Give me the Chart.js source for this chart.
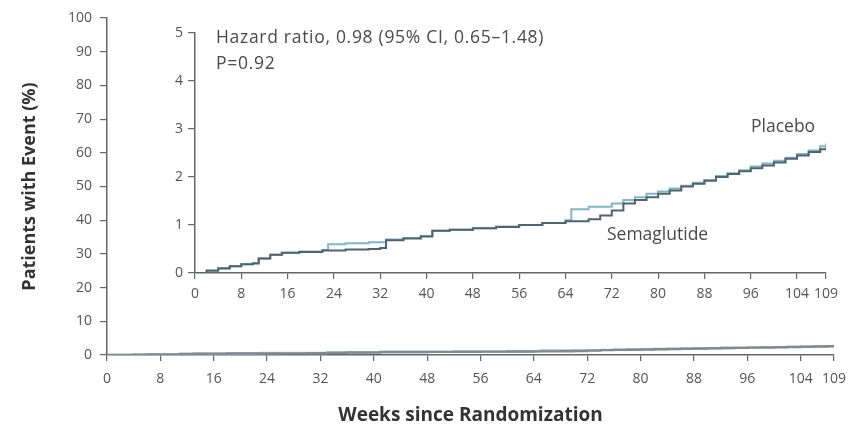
<!DOCTYPE html>
<html>
<head>
<meta charset="utf-8">
<script src="https://cdn.jsdelivr.net/npm/chart.js@4.4.1/dist/chart.umd.min.js"></script>
<style>
  html, body { margin: 0; padding: 0; background: #ffffff; }
  #wrap { position: relative; width: 856px; height: 427px; overflow: hidden; font-family: "Open Sans", "Liberation Sans", sans-serif; }
  #main { position: absolute; left: 0; top: 0; }
  #inset { position: absolute; left: 140px; top: 0; }
  .note { position: absolute; color: #4a4a4a; font-size: 17.5px; white-space: nowrap; line-height: 26px; }
</style>
</head>
<body>
<div id="wrap">
  <canvas id="main" width="856" height="427"></canvas>
  <canvas id="inset" width="710" height="320"></canvas>
  <div class="note" style="left:216px; top:23px; letter-spacing:0.7px;">Hazard ratio, 0.98 (95% CI, 0.65–1.48)</div>
  <div class="note" style="left:216px; top:49px; letter-spacing:0.7px;">P=0.92</div>
  <div class="note" style="left:751px; top:112px;">Placebo</div>
  <div class="note" style="left:607px; top:220px;">Semaglutide</div>
</div>
<script>
// ---- data ----
const xTickLabels = [0, 8, 16, 24, 32, 40, 48, 56, 64, 72, 80, 88, 96, 104, 109];
const mainYTicks = [0, 10, 20, 30, 40, 50, 60, 70, 80, 90, 100];
const insetYTicks = [0, 1, 2, 3, 4, 5];

const semaWeeks = [0, 2, 4, 6, 8, 10, 11, 13, 15, 18, 22, 26, 30, 32, 33, 36, 39, 41, 44, 48, 52, 56, 60, 64, 68, 70, 72, 74, 76, 78, 80, 82, 84, 86, 88, 90, 92, 94, 96, 98, 100, 102, 104, 106, 108, 109];
const semaValues = [0, 0.05, 0.1, 0.14, 0.18, 0.2, 0.3, 0.38, 0.42, 0.44, 0.47, 0.49, 0.5, 0.52, 0.68, 0.72, 0.76, 0.88, 0.9, 0.93, 0.96, 1.0, 1.04, 1.08, 1.12, 1.2, 1.3, 1.45, 1.52, 1.58, 1.65, 1.72, 1.8, 1.86, 1.92, 2.0, 2.06, 2.12, 2.18, 2.24, 2.3, 2.38, 2.45, 2.52, 2.58, 2.62];

const placeboWeeks = [0, 2, 4, 6, 8, 10, 11, 13, 15, 18, 22, 23, 26, 30, 33, 36, 39, 41, 44, 48, 52, 56, 60, 64, 65, 68, 72, 74, 76, 78, 80, 82, 84, 86, 88, 90, 92, 94, 96, 98, 100, 102, 104, 106, 108, 109];
const placeboValues = [0, 0.04, 0.09, 0.14, 0.18, 0.21, 0.3, 0.38, 0.42, 0.45, 0.48, 0.6, 0.62, 0.64, 0.7, 0.73, 0.77, 0.88, 0.9, 0.93, 0.97, 1.0, 1.04, 1.1, 1.33, 1.38, 1.45, 1.52, 1.58, 1.65, 1.7, 1.76, 1.82, 1.88, 1.94, 2.02, 2.08, 2.14, 2.22, 2.28, 2.34, 2.4, 2.48, 2.55, 2.64, 2.7];

const toPoints = (xs, ys) => xs.map((x, i) => ({ x: x, y: ys[i] }));

const FONT = "'Open Sans', 'Liberation Sans', sans-serif";
const tickColor = '#555555';
const axisColor = '#666666';

function xScale(fontSize, height, pad) {
  return {
    type: 'linear', min: 0, max: 109,
    afterBuildTicks: s => { s.ticks = xTickLabels.map(v => ({ value: v })); },
    ticks: { color: tickColor, font: { family: FONT, size: fontSize }, maxRotation: 0, autoSkip: false, padding: pad },
    grid: { drawOnChartArea: false, drawTicks: true, tickLength: 6, color: axisColor, lineWidth: 1.2 },
    border: { color: axisColor, width: 1.5 },
    afterFit: s => { s.height = height; }
  };
}
function yScale(ticksArr, max, fontSize, width, pad) {
  return {
    type: 'linear', min: 0, max: max,
    afterBuildTicks: s => { s.ticks = ticksArr.map(v => ({ value: v })); },
    ticks: { color: tickColor, font: { family: FONT, size: fontSize }, padding: pad },
    grid: { drawOnChartArea: false, drawTicks: true, tickLength: 7, color: axisColor, lineWidth: 1.2 },
    border: { color: axisColor, width: 1.5 },
    afterFit: s => { s.width = width; }
  };
}

// ---- main chart ----
const mainX = xScale(14, 72, 10);
mainX.title = { display: true, text: 'Weeks since Randomization', color: '#333333', font: { family: FONT, size: 19, weight: 'bold' }, padding: { top: 0, bottom: 0 } };
const mainY = yScale(mainYTicks, 100, 14, 107, 8);
mainY.title = { display: true, text: 'Patients with Event (%)', color: '#333333', font: { family: FONT, size: 18, weight: 'bold' }, padding: { top: 19, bottom: 0 } };

new Chart(document.getElementById('main'), {
  type: 'line',
  data: {
    datasets: [
      { label: 'Semaglutide', data: toPoints(semaWeeks, semaValues), borderColor: '#808c94', borderWidth: 2.4, pointRadius: 0, stepped: true, fill: false },
      { label: 'Placebo', data: toPoints(placeboWeeks, placeboValues), borderColor: '#a9bfca', borderWidth: 2.4, pointRadius: 0, stepped: true, fill: false }
    ]
  },
  options: {
    responsive: false, animation: false, devicePixelRatio: 1,
    layout: { padding: { top: 18, right: 20, left: 0, bottom: 0 } },
    plugins: { legend: { display: false }, tooltip: { enabled: false } },
    scales: { x: mainX, y: mainY }
  }
});

// ---- inset chart ----
new Chart(document.getElementById('inset'), {
  type: 'line',
  data: {
    datasets: [
      { label: 'Semaglutide', data: toPoints(semaWeeks, semaValues), borderColor: '#4f646f', borderWidth: 2, pointRadius: 0, stepped: true, fill: false },
      { label: 'Placebo', data: toPoints(placeboWeeks, placeboValues), borderColor: '#7fb6cc', borderWidth: 2, pointRadius: 0, stepped: true, fill: false }
    ]
  },
  options: {
    responsive: false, animation: false, devicePixelRatio: 1,
    layout: { padding: { top: 33, right: 24, left: 0, bottom: 0 } },
    plugins: { legend: { display: false }, tooltip: { enabled: false } },
    scales: { x: xScale(14, 47, 7), y: yScale(insetYTicks, 5, 14, 55, 5) }
  }
});
</script>
</body>
</html>
